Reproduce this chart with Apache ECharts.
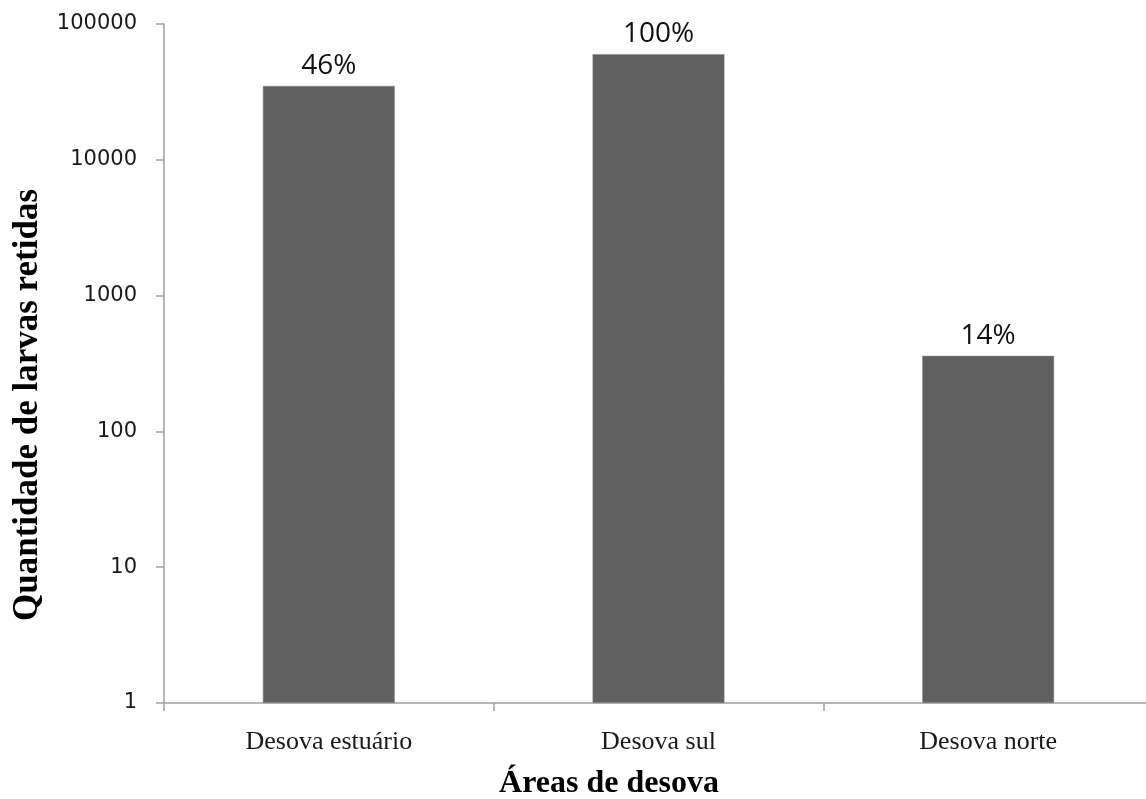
<!DOCTYPE html>
<html>
<head>
<meta charset="utf-8">
<script src="https://cdn.jsdelivr.net/npm/echarts@6/dist/echarts.min.js"></script>
<style>
  html, body { margin: 0; padding: 0; background: #ffffff; }
  #chart { width: 1146px; height: 799px; }
</style>
</head>
<body>
<div id="chart"></div>
<script>
// Spawning areas and number of retained larvae (log scale)
const categories = ['Desova estuário', 'Desova sul', 'Desova norte'];
const larvae = [35000, 60000, 360];
const shareLabels = ['46%', '100%', '14%'];
const yTicks = [1, 10, 100, 1000, 10000, 100000];

const chart = echarts.init(document.getElementById('chart'));

chart.setOption({
  backgroundColor: '#ffffff',
  animation: false,
  grid: {
    left: 164, width: 989, top: 24, height: 679,
    containLabel: false,
    outerBoundsMode: 'none'
  },
  xAxis: {
    type: 'category',
    data: categories,
    axisLine: { lineStyle: { color: '#a0a0a0', width: 1.5 } },
    axisTick: { show: true, length: 8, alignWithLabel: false, lineStyle: { color: '#a0a0a0', width: 1.5 } },
    axisLabel: {
      color: '#1a1a1a',
      fontFamily: 'Liberation Serif',
      fontSize: 26,
      margin: 26
    },
    splitLine: { show: false }
  },
  yAxis: {
    type: 'log',
    logBase: 10,
    min: yTicks[0],
    max: yTicks[yTicks.length - 1],
    axisLine: { show: true, lineStyle: { color: '#a0a0a0', width: 1.5 } },
    axisTick: { show: true, length: 8, lineStyle: { color: '#a0a0a0', width: 1.5 } },
    axisLabel: {
      color: '#1a1a1a',
      fontFamily: 'DejaVu Sans',
      fontSize: 21,
      margin: 27,
      formatter: v => String(Math.round(v))
    },
    splitLine: { show: false },
    minorTick: { show: false }
  },
  series: [{
    type: 'bar',
    data: larvae,
    barWidth: '40%',
    itemStyle: { color: '#606060', borderColor: '#8a8a8a', borderWidth: 0.5 },
    label: {
      show: true,
      position: 'top',
      distance: 6,
      color: '#111111',
      fontFamily: 'Open Sans',
      fontSize: 28,
      formatter: p => shareLabels[p.dataIndex]
    }
  }],
  graphic: [
    {
      type: 'text',
      x: 609,
      y: 784,
      style: {
        text: 'Áreas de desova',
        fontFamily: 'Liberation Serif',
        fontWeight: 'bold',
        fontSize: 32,
        fill: '#000000',
        align: 'center',
        verticalAlign: 'middle'
      }
    },
    {
      type: 'text',
      x: 28,
      y: 405,
      rotation: Math.PI / 2,
      style: {
        text: 'Quantidade de larvas retidas',
        fontFamily: 'Liberation Serif',
        fontWeight: 'bold',
        fontSize: 35,
        fill: '#000000',
        align: 'center',
        verticalAlign: 'middle'
      }
    }
  ]
});
</script>
</body>
</html>
